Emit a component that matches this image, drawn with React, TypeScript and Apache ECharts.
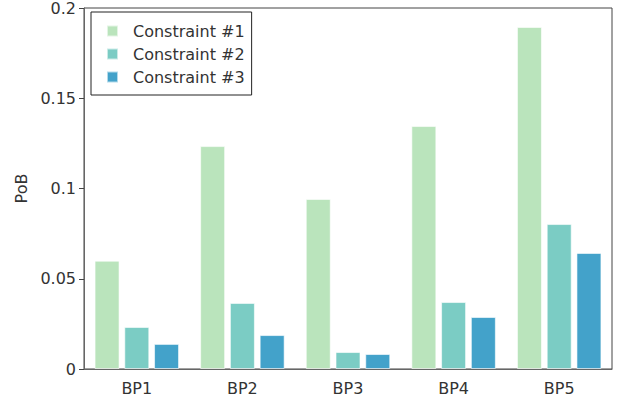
import React, { useEffect, useRef } from "react";
import * as echarts from "echarts";

const categories = ["BP1", "BP2", "BP3", "BP4", "BP5"];
const seriesNames = ["Constraint #1", "Constraint #2", "Constraint #3"];
const constraint1 = [0.06, 0.1235, 0.0942, 0.1346, 0.1895];
const constraint2 = [0.0233, 0.0366, 0.0094, 0.0371, 0.0803];
const constraint3 = [0.0139, 0.0188, 0.0083, 0.0288, 0.0643];
const colors = ["#bae4bc", "#7bccc4", "#43a2ca"];
const yTicks = [0, 0.05, 0.1, 0.15, 0.2];

const FONT = "DejaVu Sans";

export default function App() {
  const ref = useRef<HTMLDivElement>(null);
  useEffect(() => {
    if (!ref.current) return;
    const chart = echarts.init(ref.current, undefined, { renderer: "svg" });
    const data = [constraint1, constraint2, constraint3];
    chart.setOption({
      animation: false,
      textStyle: { fontFamily: FONT },
      grid: {
        left: 84,
        right: 10,
        top: 7,
        bottom: 33,
        show: true,
        borderColor: "#444",
        borderWidth: 1,
        backgroundColor: "transparent",
      },
      legend: {
        orient: "vertical",
        left: 91,
        top: 12,
        padding: [11, 7, 10, 15],
        itemWidth: 11,
        itemHeight: 11,
        itemGap: 7,
        borderColor: "#222",
        borderWidth: 1,
        borderRadius: 0,
        backgroundColor: "#fff",
        data: seriesNames.map((n) => ({ name: n, icon: "rect" })),
        textStyle: {
          fontFamily: FONT,
          fontSize: 16,
          color: "#333",
          padding: [0, 0, 0, 10],
        },
      },
      xAxis: {
        type: "category",
        data: categories,
        axisLine: { lineStyle: { color: "#666", width: 1 } },
        axisTick: { alignWithLabel: true, length: 5, lineStyle: { color: "#444" } },
        axisLabel: { fontFamily: FONT, fontSize: 16, color: "#333", margin: 11 },
      },
      yAxis: {
        type: "value",
        min: 0,
        max: 0.2,
        interval: 0.05,
        name: "PoB",
        nameLocation: "middle",
        nameGap: 45,
        nameTextStyle: { fontFamily: FONT, fontSize: 16, color: "#333" },
        splitLine: { show: false },
        axisLine: { show: true, lineStyle: { color: "#666", width: 1 } },
        axisTick: { show: true, length: 5, lineStyle: { color: "#444" } },
        axisLabel: {
          fontFamily: FONT,
          fontSize: 16,
          color: "#333",
          margin: 8,
          padding: [4, 0, 0, 0],
          formatter: (v: number) => {
            const t = yTicks.find((x) => Math.abs(x - v) < 1e-9);
            return t === undefined ? "" : String(t);
          },
        },
      },
      series: seriesNames.map((name, i) => ({
        name,
        type: "bar",
        data: data[i],
        barWidth: 25,
        barGap: "19%",
        itemStyle: {
          color: colors[i],
          borderColor: "rgba(255,255,255,0.6)",
          borderWidth: 1,
        },
      })),
    });
    return () => chart.dispose();
  }, []);
  return (
    <div
      ref={ref}
      style={{ position: "absolute", left: 0, top: 0, width: 622, height: 402 }}
    />
  );
}
